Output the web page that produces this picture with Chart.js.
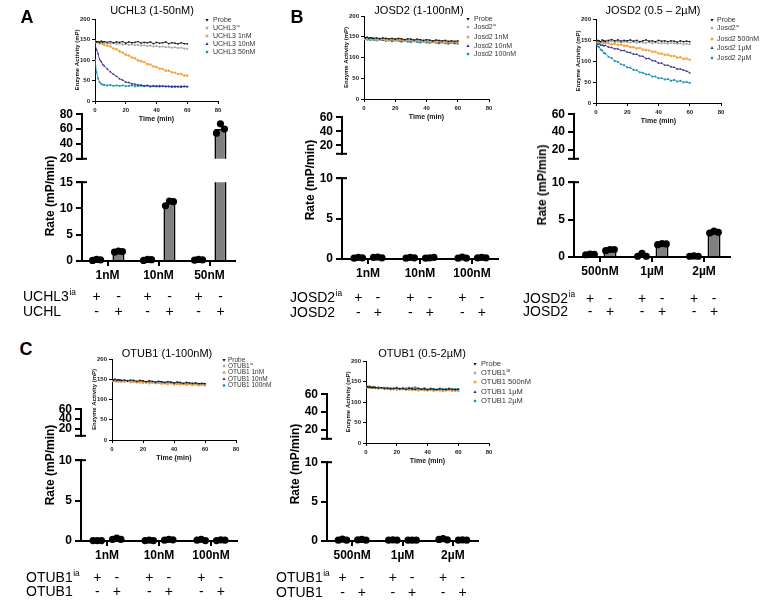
<!DOCTYPE html>
<html><head><meta charset="utf-8">
<script src="https://cdn.jsdelivr.net/npm/chart.js@4.4.1/dist/chart.umd.min.js"></script>
<style>
html,body{margin:0;padding:0;background:#fff;}
body{position:relative;width:765px;height:600px;overflow:hidden;font-family:'Liberation Sans',Arial,sans-serif;}
canvas{position:absolute;}
.t{position:absolute;white-space:nowrap;color:#000;line-height:1;}
</style></head><body>
<script>
// ======================= DATA =======================
const timeMin = [0,1,2,3,4,5,6,8,10,12,14,16,18,20,22,24,26,28,30,32,34,36,38,40,42,44,46,48,50,52,54,56,58,60];

// Panel A inset: UCHL3 (1-50nM)
const uchl3Probe = [146,144,145,143,146,144,145,143,145,142,144,143,145,141,144,142,143,145,141,143,142,144,140,143,141,142,144,140,142,141,139,142,140,139];
const uchl3Ia    = [143,144,142,143,141,143,142,141,140,141,139,140,138,139,137,138,136,137,135,136,134,135,133,134,132,133,131,132,130,131,129,130,128,127];
const uchl3_1nM  = [146,144,144,141,141,140,137,135,133,128,126,121,118,113,111,106,104,99,97,95,90,89,84,83,79,78,74,74,70,69,66,66,62,62];
const uchl3_10nM = [138,125,115,101,96,89,86,78,71,65,60,54,51,46,45,42,41,39,39,37,38,36,37,35,37,36,35,36,34,36,35,34,36,35];
const uchl3_50nM = [100,70,55,46,42,40,39,38,39,37,38,37,38,36,37,38,36,37,37,36,37,35,36,37,35,36,36,35,36,34,35,36,35,35];
const uchl3Legend = ['Probe','UCHL3^ia','UCHL3 1nM','UCHL3 10nM','UCHL3 50nM'];

// Panel B inset 1: JOSD2 (1-100nM)
const josdLoProbe = [148,147,149,146,148,147,146,147,145,147,146,145,146,144,146,145,143,145,144,142,144,143,141,143,142,140,142,141,140,141,139,140,139,140];
const josdLoIa    = [146,147,145,146,147,145,146,145,146,144,145,144,143,145,142,144,143,141,143,142,141,142,140,141,140,139,141,139,138,140,138,139,137,138];
const josd_1nM    = [145,146,144,145,146,144,145,144,143,145,143,142,144,141,143,142,140,142,141,139,141,140,139,140,138,139,137,139,138,137,138,136,138,137];
const josd_10nM   = [147,145,146,144,146,145,143,145,144,142,144,143,141,143,142,140,142,141,139,141,140,138,140,139,137,139,138,136,138,137,136,137,135,137];
const josd_100nM  = [144,145,143,144,142,144,143,141,143,142,140,141,139,141,140,138,140,138,137,139,137,136,138,136,135,137,135,134,136,134,133,135,134,133];
const josdLoLegend = ['Probe','Josd2^ia','Josd2 1nM','Josd2 10nM','Josd2 100nM'];

// Panel B inset 2: JOSD2 (0.5-2uM)
const josdHiProbe = [147,149,148,146,150,148,147,149,151,148,150,147,149,148,150,147,149,146,148,150,147,148,146,149,147,148,146,148,147,145,148,146,147,146];
const josdHiIa    = [146,147,146,145,147,146,145,146,147,145,146,144,146,145,144,146,143,145,144,143,145,142,144,143,142,143,141,143,142,141,142,140,141,140];
const josd_500nM  = [147,145,146,144,145,143,143,142,140,141,138,139,136,136,133,133,130,131,127,126,125,122,122,118,118,115,115,112,112,108,109,105,106,103];
const josd_1uM    = [143,140,141,138,138,136,137,133,132,129,129,125,125,121,120,116,116,112,111,106,106,101,100,95,95,90,90,86,85,81,81,78,76,72];
const josd_2uM    = [140,135,133,127,125,119,118,110,107,100,98,92,90,85,84,79,78,73,72,68,68,63,63,59,59,56,57,53,55,51,53,49,50,48];
const josdHiLegend = ['Probe','Josd2^ia','Josd2 500nM','Josd2 1µM','Josd2 2µM'];

// Panel C inset 1: OTUB1 (1-100nM)
const otubLoProbe = [149,148,150,147,149,148,147,148,146,148,147,145,147,146,144,146,145,143,145,144,142,144,143,141,143,142,140,142,141,140,141,139,140,139];
const otubLoIa    = [147,148,146,147,148,146,147,146,147,145,146,144,146,145,143,145,144,142,144,143,141,143,142,140,142,141,139,141,140,139,140,138,139,138];
const otub_1nM    = [146,147,145,146,144,146,145,144,145,143,144,142,143,141,143,140,142,140,141,139,140,138,140,137,139,137,138,136,138,136,137,135,136,135];
const otub_10nM   = [148,146,147,145,147,146,144,146,145,143,145,144,142,144,143,141,143,142,140,142,141,139,141,140,138,140,139,138,139,137,139,138,137,138];
const otub_100nM  = [147,148,146,147,145,147,146,145,146,144,145,143,145,144,142,144,142,141,143,141,140,142,140,139,141,139,138,140,138,137,139,137,138,137];
const otubLoLegend = ['Probe','OTUB1^ia','OTUB1 1nM','OTUB1 10nM','OTUB1 100nM'];

// Panel C inset 2: OTUB1 (0.5-2uM)
const otubHiProbe = [138,137,136,137,135,136,135,134,135,133,134,132,133,134,132,133,131,133,132,131,133,131,132,130,132,131,130,132,131,130,132,131,130,131];
const otubHiIa    = [137,138,136,135,137,135,134,135,133,134,132,133,131,132,133,131,132,130,131,132,130,131,129,131,130,129,131,130,129,130,131,129,130,129];
const otub_500nM  = [136,137,135,136,134,135,134,133,134,132,133,131,132,130,131,132,130,131,129,130,128,130,129,128,129,127,129,128,127,128,129,127,128,127];
const otub_1uM    = [138,136,137,135,136,134,135,134,133,134,132,133,132,131,133,131,132,130,132,131,129,131,130,129,131,130,129,130,128,130,129,130,128,129];
const otub_2uM    = [137,136,138,136,135,137,135,136,134,135,133,134,133,135,132,134,133,135,134,136,133,132,134,131,133,132,131,133,131,132,133,131,132,132];
const otubHiLegend = ['Probe','OTUB1^ia','OTUB1 500nM','OTUB1 1µM','OTUB1 2µM'];

// Rate bar charts (mP/min): means and replicate points
const uchl3Cats = ['1nM','10nM','50nM'];
const uchl3IaMean = [0.2,0.2,0.2];
const uchl3ActMean = [1.8,11.1,60];
const uchl3IaReps = [[0.1,0.3,0.2],[0.1,0.3,0.25],[0.15,0.3,0.2]];
const uchl3ActReps = [[1.7,1.9,1.8],[10.5,11.4,11.3],[54.5,67,60]];

const josdLoCats = ['1nM','10nM','100nM'];
const josdLoIaMean = [0.15,0.15,0.15];
const josdLoActMean = [0.2,0.15,0.15];
const josdLoIaReps = [[0.1,0.2,0.15],[0.1,0.2,0.15],[0.1,0.25,0.1]];
const josdLoActReps = [[0.2,0.25,0.15],[0.1,0.15,0.2],[0.15,0.2,0.15]];

const josdHiCats = ['500nM','1µM','2µM'];
const josdHiIaMean = [0.35,0.2,0.1];
const josdHiActMean = [0.95,1.75,3.3];
const josdHiIaReps = [[0.3,0.4,0.35],[0.1,0.5,0.1],[0.1,0.15,0.1]];
const josdHiActReps = [[0.85,1.0,1.0],[1.65,1.8,1.75],[3.2,3.45,3.3]];

const otubLoCats = ['1nM','10nM','100nM'];
const otubLoIaMean = [0.05,0.05,0.1];
const otubLoActMean = [0.25,0.15,0.1];
const otubLoIaReps = [[0.05,0.05,0.05],[0.05,0.1,0.05],[0.1,0.2,0.05]];
const otubLoActReps = [[0.2,0.35,0.2],[0.1,0.2,0.15],[0.05,0.15,0.1]];

const otubHiCats = ['500nM','1µM','2µM'];
const otubHiIaMean = [0.15,0.1,0.2];
const otubHiActMean = [0.15,0.1,0.1];
const otubHiIaReps = [[0.1,0.25,0.1],[0.1,0.15,0.1],[0.2,0.3,0.15]];
const otubHiActReps = [[0.15,0.2,0.1],[0.1,0.1,0.1],[0.1,0.15,0.1]];

// Tick labels
const insetYTicks = [0,50,100,150,200];
const insetXTicks = [0,20,40,60,80];
const uchl3UpperTicks = [20,40,60,80];
const uchl3LowerTicks = [0,5,10,15];
const rateUpperTicks = [20,40,60];
const rateLowerTicks = [0,5,10];
const iaRowSigns = ['+','-'];
const actRowSigns = ['-','+'];

// ======================= STYLE / HELPERS =======================
const FONT = "'Liberation Sans', Arial, sans-serif";
Chart.defaults.font.family = FONT;
Chart.defaults.color = '#000';
const seriesColors = ['#141414','#a8a8a8','#f5a540','#2d2a86','#1a93b2'];
const markerStyles = ['triangle','rect','circle','triangle','rect'];
const markerRot = [180,45,0,0,0];

function mkCanvas(x, y, w, h, z) {
  const c = document.createElement('canvas');
  w = Math.round(w); h = Math.round(h);
  c.width = w; c.height = h;
  Object.assign(c.style, {left: x + 'px', top: y + 'px', width: w + 'px', height: h + 'px', zIndex: z});
  document.body.appendChild(c);
  return c;
}
function html(s, x, y, css, rot) {
  const d = document.createElement('div');
  d.className = 't'; d.innerHTML = s; d.style.cssText += css;
  d.style.left = x + 'px'; d.style.top = y + 'px';
  d.style.transform = 'translate(-50%,-50%)' + (rot ? ' rotate(-90deg)' : '');
  d.style.zIndex = 5;
  document.body.appendChild(d);
}
function supText(ctx, s, x, y, size, weight, color) {
  const parts = s.split('^');
  ctx.fillStyle = color || '#000';
  ctx.textAlign = 'left'; ctx.textBaseline = 'middle';
  ctx.font = `${weight || 'normal'} ${size}px ${FONT}`;
  ctx.fillText(parts[0], x, y);
  if (parts[1]) {
    const w = ctx.measureText(parts[0]).width;
    ctx.font = `${weight || 'normal'} ${size * 0.6}px ${FONT}`;
    ctx.fillText(parts[1], x + w + 0.5, y - size * 0.32);
  }
}
function marker(ctx, style, rot, x, y, r, color) {
  ctx.save(); ctx.fillStyle = color; ctx.translate(x, y); ctx.rotate(rot * Math.PI / 180);
  ctx.beginPath();
  if (style === 'circle') ctx.arc(0, 0, r, 0, Math.PI * 2);
  else if (style === 'rect') ctx.rect(-r * 0.75, -r * 0.75, r * 1.5, r * 1.5);
  else { ctx.moveTo(0, -r * 1.1); ctx.lineTo(r, r * 0.7); ctx.lineTo(-r, r * 0.7); ctx.closePath(); }
  ctx.fill(); ctx.restore();
}

// ---------- inset kinetics chart ----------
function insetChart(I) {
  const yW = 22, xH = 22, padTop = 6;
  const left = I.axisX - yW, top = I.y200 - padTop;
  const plotW = I.x80 - I.axisX, plotH = I.y0 - I.y200;
  const cv = mkCanvas(left, top, yW + plotW + I.legW, padTop + plotH + xH, 2);
  const legendPlugin = {
    id: 'insetLegend',
    afterDraw(chart) {
      const ctx = chart.ctx;
      ctx.save();
      chart.data.datasets.forEach((ds, i) => {
        const y = I.legRows[i] - top;
        marker(ctx, markerStyles[i], markerRot[i], I.legMarkX - left, y, 1.6, seriesColors[i]);
        supText(ctx, ds.label, I.legTextX - left, y, I.legFont, 'normal', '#333');
      });
      ctx.restore();
    }
  };
  const fixedTicks = (vals) => (s) => { s.ticks = vals.map(v => ({value: v})); };
  new Chart(cv, {
    type: 'scatter',
    data: {
      datasets: I.series.map((s, i) => ({
        label: I.names[i],
        data: timeMin.map((t, j) => ({x: t, y: s[j]})),
        showLine: true, borderColor: seriesColors[i], borderWidth: 0.8,
        pointRadius: 1.3, pointStyle: markerStyles[i], pointRotation: markerRot[i],
        pointBackgroundColor: seriesColors[i], pointBorderWidth: 0
      }))
    },
    options: {
      responsive: false, animation: false, events: [],
      layout: {padding: {left: 0, top: padTop, right: I.legW, bottom: 0}},
      plugins: {legend: {display: false}, tooltip: {enabled: false}},
      scales: {
        x: {
          type: 'linear', min: 0, max: 80, afterBuildTicks: fixedTicks(insetXTicks),
          ticks: {font: {size: 6, weight: 'bold'}, padding: 3, color: '#222', autoSkip: false},
          grid: {drawOnChartArea: false, tickLength: 3, color: '#000', lineWidth: 1},
          border: {color: '#000', width: 1},
          title: {display: true, text: 'Time (min)', font: {size: 7, weight: 'bold'}, padding: {top: 0, bottom: 0}, color: '#111'},
          afterFit: s => { s.height = xH; }
        },
        y: {
          min: 0, max: 200, afterBuildTicks: fixedTicks(insetYTicks),
          ticks: {font: {size: 6, weight: 'bold'}, padding: 2, color: '#222', autoSkip: false},
          grid: {drawOnChartArea: false, tickLength: 3, color: '#000', lineWidth: 1},
          border: {color: '#000', width: 1},
          title: {display: true, text: 'Enzyme Activity (mP)', font: {size: 6, weight: 'bold'}, padding: {top: 1, bottom: 0}, color: '#111'},
          afterFit: s => { s.width = yW; }
        }
      }
    },
    plugins: [legendPlugin]
  });
}

// ---------- broken-axis bar chart (two segments) ----------
function barPanel(P) {
  const yW = 40, padTop = 8, padRight = 8;
  const makeSeg = (seg, lower) => {
    const left = lower ? P.labelX - 4 : P.axisX - yW;
    const top = seg.top - padTop;
    const xH = lower ? (P.row2Y + 10 - seg.bottom) : 0;
    const padBottom = lower ? 0 : 2;
    const w = (P.axisX - left) + P.plotW + padRight;
    const h = padTop + (seg.bottom - seg.top) + xH + padBottom;
    const cv = mkCanvas(left, top, w, h, 1);
    const barDs = (data) => ({
      data, backgroundColor: '#808080', borderColor: '#000', borderWidth: 1.6, clip: 0,
      categoryPercentage: P.catPct, barPercentage: P.barPct
    });
    const plugins = [{
      id: 'reps',
      afterDatasetsDraw(chart) {
        const ctx = chart.ctx, ys = chart.scales.y;
        ctx.save(); ctx.fillStyle = '#000';
        [P.iaReps, P.actReps].forEach((reps, di) => {
          chart.getDatasetMeta(di).data.forEach((bar, ci) => {
            reps[ci].forEach((v, k) => {
              if (v < ys.min || v > ys.max) return;
              ctx.beginPath();
              ctx.arc(bar.x + (k - 1) * bar.width * 0.33, ys.getPixelForValue(v), 3.6, 0, Math.PI * 2);
              ctx.fill();
            });
          });
        });
        ctx.restore();
      }
    }, {
      id: 'brk',
      afterDraw(chart) {
        const {ctx, chartArea: a} = chart;
        const y = lower ? a.top : a.bottom;
        ctx.save(); ctx.strokeStyle = '#000'; ctx.lineWidth = 2;
        ctx.beginPath(); ctx.moveTo(a.left - 6, y); ctx.lineTo(a.left + 5, y); ctx.stroke();
        ctx.restore();
      }
    }];
    if (lower) plugins.push({
      id: 'rows',
      afterDraw(chart) {
        const ctx = chart.ctx;
        ctx.save();
        supText(ctx, P.rowNames[0], P.labelX - left, P.row1Y - top, 14, 'normal');
        supText(ctx, P.rowNames[1], P.labelX - left, P.row2Y - top, 14, 'normal');
        ctx.font = `14px ${FONT}`; ctx.textAlign = 'center'; ctx.textBaseline = 'middle'; ctx.fillStyle = '#000';
        [0, 1].forEach(di => {
          chart.getDatasetMeta(di).data.forEach(bar => {
            ctx.fillText(iaRowSigns[di], bar.x, P.row1Y - top);
            ctx.fillText(actRowSigns[di], bar.x, P.row2Y - top);
          });
        });
        ctx.restore();
      }
    });
    new Chart(cv, {
      type: 'bar',
      data: {labels: P.cats, datasets: [barDs(P.iaMean), barDs(P.actMean)]},
      options: {
        responsive: false, animation: false, events: [],
        layout: {padding: {left: (P.axisX - left) - yW, top: padTop, right: padRight, bottom: padBottom}},
        plugins: {legend: {display: false}, tooltip: {enabled: false}},
        scales: {
          x: {
            display: lower, offset: true,
            grid: {offset: false, drawOnChartArea: false, drawTicks: true, tickLength: 5, color: '#000', lineWidth: 2},
            border: {display: true, color: '#000', width: 2},
            ticks: {font: {size: 12, weight: 'bold'}, padding: 2, color: '#000', maxRotation: 0, autoSkip: false},
            afterFit: s => { if (lower) s.height = xH; }
          },
          y: {
            min: seg.min, max: seg.max,
            afterBuildTicks: s => { s.ticks = seg.ticks.map(v => ({value: v})); },
            ticks: {font: {size: 12, weight: 'bold'}, padding: 3, color: '#000', autoSkip: false},
            grid: {drawOnChartArea: false, tickLength: 6, color: '#000', lineWidth: 2},
            border: {display: true, color: '#000', width: 2},
            afterFit: s => { s.width = yW; }
          }
        }
      },
      plugins
    });
  };
  makeSeg(P.up, false);
  makeSeg(P.lo, true);
  html('Rate (mP/min)', P.yTitle[0], P.yTitle[1], 'font-weight:bold;font-size:12px;', true);
}

// ======================= BUILD =======================
html('A', 27, 17, 'font-weight:bold;font-size:18px;');
html('B', 297, 17, 'font-weight:bold;font-size:18px;');
html('C', 26, 349, 'font-weight:bold;font-size:18px;');
html('UCHL3 (1-50nM)', 152, 10, 'font-size:11px;');
html('JOSD2 (1-100nM)', 419, 10, 'font-size:11px;');
html('JOSD2 (0.5 – 2µM)', 653, 10, 'font-size:11px;');
html('OTUB1 (1-100nM)', 167, 353, 'font-size:11px;');
html('OTUB1 (0.5-2µM)', 422, 353, 'font-size:11px;');

barPanel({axisX: 82, plotW: 153, catPct: 0.86, barPct: 0.55,
  up: {min: 20, max: 80, top: 112, bottom: 167, ticks: uchl3UpperTicks},
  lo: {min: 0, max: 15, top: 180, bottom: 261, ticks: uchl3LowerTicks},
  cats: uchl3Cats, iaMean: uchl3IaMean, actMean: uchl3ActMean, iaReps: uchl3IaReps, actReps: uchl3ActReps,
  labelX: 23, row1Y: 297, row2Y: 312, rowNames: ['UCHL3^ia', 'UCHL'], yTitle: [50, 196]});
barPanel({axisX: 342, plotW: 156, catPct: 0.75, barPct: 0.65,
  up: {min: 8, max: 60, top: 115, bottom: 162, ticks: rateUpperTicks},
  lo: {min: 0, max: 10, top: 176, bottom: 259, ticks: rateLowerTicks},
  cats: josdLoCats, iaMean: josdLoIaMean, actMean: josdLoActMean, iaReps: josdLoIaReps, actReps: josdLoActReps,
  labelX: 290, row1Y: 298, row2Y: 313, rowNames: ['JOSD2^ia', 'JOSD2'], yTitle: [310, 180]});
barPanel({axisX: 574, plotW: 156, catPct: 0.77, barPct: 0.65,
  up: {min: 10, max: 60, top: 112, bottom: 167, ticks: rateUpperTicks},
  lo: {min: 0, max: 10, top: 180, bottom: 257, ticks: rateLowerTicks},
  cats: josdHiCats, iaMean: josdHiIaMean, actMean: josdHiActMean, iaReps: josdHiIaReps, actReps: josdHiActReps,
  labelX: 523, row1Y: 299, row2Y: 312, rowNames: ['JOSD2^ia', 'JOSD2'], yTitle: [542, 185]});
barPanel({axisX: 81, plotW: 156, catPct: 0.75, barPct: 0.65,
  up: {min: 5, max: 60, top: 407, bottom: 444, ticks: rateUpperTicks},
  lo: {min: 0, max: 10, top: 458, bottom: 541, ticks: rateLowerTicks},
  cats: otubLoCats, iaMean: otubLoIaMean, actMean: otubLoActMean, iaReps: otubLoIaReps, actReps: otubLoActReps,
  labelX: 26, row1Y: 578, row2Y: 592, rowNames: ['OTUB1^ia', 'OTUB1'], yTitle: [50, 465]});
barPanel({axisX: 327, plotW: 151, catPct: 0.77, barPct: 0.65,
  up: {min: 10, max: 60, top: 392, bottom: 447, ticks: rateUpperTicks},
  lo: {min: 0, max: 10, top: 460, bottom: 541, ticks: rateLowerTicks},
  cats: otubHiCats, iaMean: otubHiIaMean, actMean: otubHiActMean, iaReps: otubHiIaReps, actReps: otubHiActReps,
  labelX: 276, row1Y: 578, row2Y: 593, rowNames: ['OTUB1^ia', 'OTUB1'], yTitle: [295, 464]});

insetChart({axisX: 95, y200: 19, y0: 101, x80: 218, legW: 47, legMarkX: 207, legTextX: 213,
  legRows: [20, 28, 36, 44, 52], legFont: 7,
  series: [uchl3Probe, uchl3Ia, uchl3_1nM, uchl3_10nM, uchl3_50nM], names: uchl3Legend});
insetChart({axisX: 364, y200: 16, y0: 99, x80: 489, legW: 50, legMarkX: 468, legTextX: 474,
  legRows: [19, 27, 37, 46, 54], legFont: 7,
  series: [josdLoProbe, josdLoIa, josd_1nM, josd_10nM, josd_100nM], names: josdLoLegend});
insetChart({axisX: 596, y200: 19, y0: 103, x80: 721, legW: 44, legMarkX: 712, legTextX: 717,
  legRows: [20, 28, 39, 48, 58], legFont: 7,
  series: [josdHiProbe, josdHiIa, josd_500nM, josd_1uM, josd_2uM], names: josdHiLegend});
insetChart({axisX: 112, y200: 359, y0: 440, x80: 236, legW: 50, legMarkX: 224, legTextX: 228,
  legRows: [360, 366, 372.5, 379, 385.5], legFont: 6.5,
  series: [otubLoProbe, otubLoIa, otub_1nM, otub_10nM, otub_100nM], names: otubLoLegend});
insetChart({axisX: 366, y200: 361, y0: 443, x80: 489, legW: 50, legMarkX: 475, legTextX: 481,
  legRows: [364, 373, 382, 392, 401], legFont: 7.5,
  series: [otubHiProbe, otubHiIa, otub_500nM, otub_1uM, otub_2uM], names: otubHiLegend});
</script>
</body></html>
